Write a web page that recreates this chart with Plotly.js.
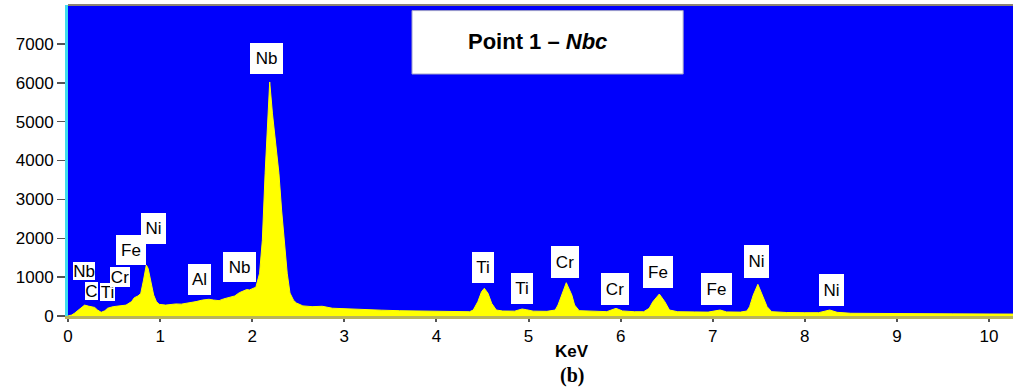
<!DOCTYPE html>
<html>
<head>
<meta charset="utf-8">
<script src="https://cdn.plot.ly/plotly-3.0.1.min.js"></script>
<style>html,body{margin:0;padding:0;background:#fff;}#chart{width:1013px;height:389px;}</style>
</head>
<body>
<div id="chart"></div>
<script>
// Spectrum: energy (keV) and counts
const energyKeV = [0.00,0.04,0.07,0.11,0.14,0.18,0.22,0.25,0.29,0.32,0.36,0.40,0.43,0.49,0.56,0.63,0.69,0.72,0.76,0.79,0.82,0.85,0.87,0.90,0.93,0.96,0.99,1.06,1.12,1.17,1.23,1.28,1.34,1.39,1.46,1.53,1.58,1.64,1.69,1.74,1.81,1.86,1.90,1.94,1.97,2.01,2.04,2.08,2.11,2.14,2.165,2.19,2.22,2.255,2.29,2.32,2.35,2.38,2.41,2.45,2.48,2.55,2.65,2.76,2.87,3.00,3.10,3.25,3.40,3.60,3.80,4.00,4.14,4.30,4.36,4.40,4.45,4.49,4.52,4.56,4.60,4.65,4.72,4.85,4.93,4.98,5.05,5.20,5.29,5.32,5.36,5.41,5.47,5.50,5.55,5.70,5.85,5.95,6.02,6.15,6.25,6.31,6.35,6.42,6.48,6.53,6.62,6.80,6.95,7.08,7.15,7.30,7.37,7.40,7.44,7.49,7.55,7.59,7.64,7.80,8.00,8.15,8.27,8.35,8.50,8.80,9.20,9.60,10.00,10.26];
const counts = [0,25,70,140,200,280,255,240,220,155,95,135,200,240,255,280,370,470,515,580,925,1310,1225,840,540,370,300,280,300,310,305,325,340,370,410,430,410,395,440,470,515,600,640,680,670,720,740,1100,1950,3670,4780,6020,5200,4450,3670,2700,1950,1100,590,400,335,260,240,250,200,185,170,165,150,136,125,115,110,108,110,154,370,625,712,583,326,154,128,125,180,160,125,120,154,283,540,857,540,283,137,115,112,197,130,110,110,197,368,565,368,154,110,105,100,154,105,100,128,240,540,815,497,240,111,90,85,86,154,95,70,62,58,55,52,50];

// Peak labels
const labelText = ['Nb','C','Ti','Cr','Fe','Ni','Al','Nb','Nb','Ti','Ti','Cr','Cr','Fe','Fe','Ni','Ni'];
const labelKeV = [0.17,0.26,0.43,0.56,0.68,0.93,1.43,1.86,2.16,4.51,4.93,5.40,5.94,6.41,7.04,7.48,8.29];
const labelCounts = [1157,640,617,1003,1697,2262,951,1260,6630,1260,720,1390,694,1131,694,1414,668];

// Axis ticks
const xTickVals = [0,1,2,3,4,5,6,7,8,9,10];
const yTickVals = [0,1000,2000,3000,4000,5000,6000,7000];
const titleText = '<b>Point 1 – <i>Nbc</i></b>';
const xAxisLabel = '<b>KeV</b>';
const panelLabel = '<b>(b)</b>';

// Label box sizes (style)
const boxW = [22,13,15,20,30,25,23,33,33,22,22,28,28,30,31,25,25];
const boxH = [18,18,18,20,30,31,31,30,31,31,31,32,32,32,32,33,32];

const FONT = 'Arial, "Liberation Sans", sans-serif';

const annotations = labelText.map((t, i) => ({
  x: labelKeV[i], y: labelCounts[i], xref: 'x', yref: 'y',
  text: t, showarrow: false, xanchor: 'center', yanchor: 'middle',
  bgcolor: '#ffffff', borderpad: 0, borderwidth: 0,
  width: boxW[i], height: boxH[i],
  font: {family: FONT, size: 17, color: '#000'}
}));

annotations.push({
  x: 0.497, y: 0.884, xref: 'paper', yref: 'paper', text: titleText,
  showarrow: false, xanchor: 'center', yanchor: 'middle',
  font: {family: FONT, size: 22, color: '#000'}
});
annotations.push({
  x: 0.533, y: -0.113, xref: 'paper', yref: 'paper', text: xAxisLabel,
  showarrow: false, xanchor: 'center', yanchor: 'middle',
  font: {family: FONT, size: 17, color: '#000'}
});
annotations.push({
  x: 0.533, y: -0.19, xref: 'paper', yref: 'paper', text: panelLabel,
  showarrow: false, xanchor: 'center', yanchor: 'middle',
  font: {family: '"Liberation Serif", "Times New Roman", serif', size: 20, color: '#000'}
});

const trace = {
  x: energyKeV, y: counts, type: 'scatter', mode: 'lines',
  line: {color: '#ffff00', width: 1},
  fill: 'tozeroy', fillcolor: '#ffff00', hoverinfo: 'skip'
};

const layout = {
  width: 1013, height: 389,
  margin: {l: 68, r: 0, t: 5, b: 73},
  paper_bgcolor: '#ffffff', plot_bgcolor: '#0000fc',
  showlegend: false,
  font: {family: FONT, size: 17, color: '#000'},
  xaxis: {
    range: [0, 10.26], tickvals: xTickVals, ticktext: xTickVals.map(String),
    showgrid: false, zeroline: false, showline: true, linecolor: '#b8b45a', linewidth: 3,
    ticks: 'outside', ticklen: 3, tickwidth: 2, tickcolor: '#555',
    tickfont: {family: FONT, size: 17, color: '#000'}
  },
  yaxis: {
    range: [0, 8000], tickvals: yTickVals, ticktext: yTickVals.map(String),
    showgrid: false, zeroline: false, showline: true, linecolor: '#3fdcee', linewidth: 3,
    ticks: 'outside', ticklen: 8, tickwidth: 1.5, tickcolor: '#555',
    tickfont: {family: FONT, size: 17, color: '#000'}
  },
  shapes: [
    {type: 'line', xref: 'paper', yref: 'paper', x0: 0, x1: 1, y0: 1, y1: 1,
     line: {color: '#8c8474', width: 2}},
    {type: 'rect', xref: 'paper', yref: 'paper', x0: 0.364, x1: 0.651, y0: 0.778, y1: 0.982,
     fillcolor: '#ffffff', line: {color: '#9a9ac8', width: 1}, layer: 'above'}
  ],
  annotations: annotations
};

Plotly.newPlot('chart', [trace], layout, {staticPlot: true, displayModeBar: false});
</script>
</body>
</html>
